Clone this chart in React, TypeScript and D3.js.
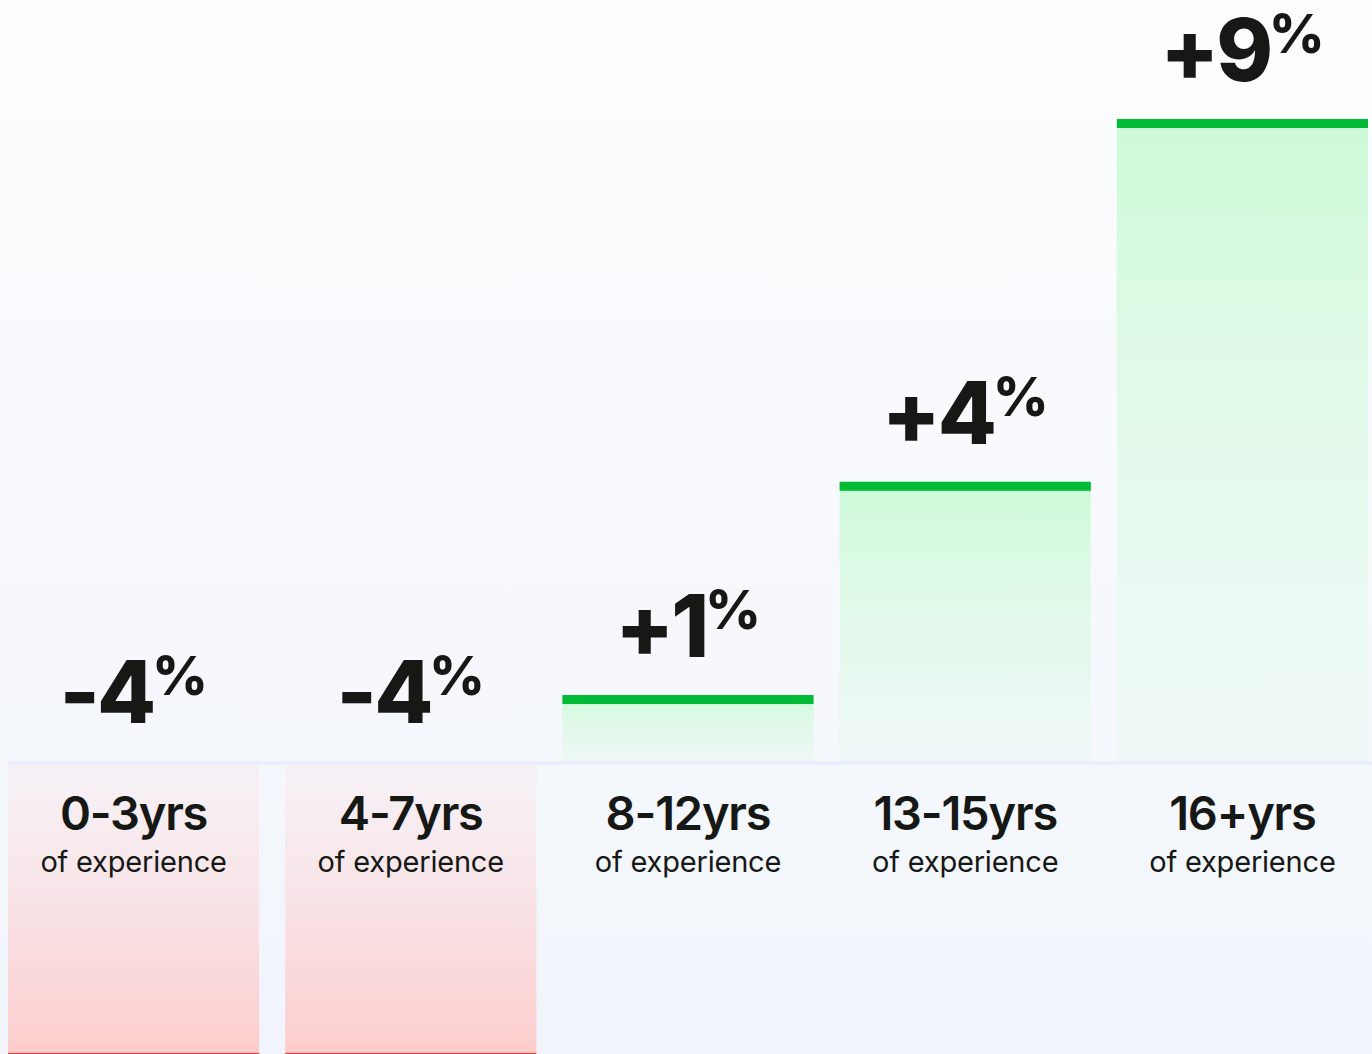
import * as d3 from 'd3';
import { useEffect, useRef } from 'react';

const categories = ['0-3yrs', '4-7yrs', '8-12yrs', '13-15yrs', '16+yrs'];
const values = [-4.05, -4.05, 0.95, 3.93, 9.0];
const valueLabels = ['-4', '-4', '+1', '+4', '+9'];
const subLabel = 'of experience';

const W = 1372;
const H = 1054;
const FONT = 'Inter, "Noto Sans", sans-serif';

function App() {
  const svgRef = useRef<SVGSVGElement>(null);

  useEffect(() => {
    const svg = d3.select(svgRef.current);
    svg.selectAll('*').remove();

    const defs = svg.append('defs');

    const bg = defs.append('linearGradient').attr('id', 'bg')
      .attr('x1', 0).attr('y1', 0).attr('x2', 0).attr('y2', 1);
    bg.append('stop').attr('offset', '0%').attr('stop-color', '#fdfdfe');
    bg.append('stop').attr('offset', '100%').attr('stop-color', '#f1f5fb');

    const green = defs.append('linearGradient').attr('id', 'greenFill')
      .attr('x1', 0).attr('y1', 0).attr('x2', 0).attr('y2', 1);
    green.append('stop').attr('offset', '0%').attr('stop-color', '#cdfad8').attr('stop-opacity', 1);
    green.append('stop').attr('offset', '100%').attr('stop-color', '#e6f8ee').attr('stop-opacity', 0.4);

    const pink = defs.append('linearGradient').attr('id', 'pinkFill')
      .attr('x1', 0).attr('y1', 0).attr('x2', 0).attr('y2', 1);
    pink.append('stop').attr('offset', '0%').attr('stop-color', '#f7eef3').attr('stop-opacity', 0.6);
    pink.append('stop').attr('offset', '100%').attr('stop-color', '#fdcccc').attr('stop-opacity', 1);

    svg.append('rect').attr('width', W).attr('height', H).attr('fill', 'url(#bg)');

    const x = d3.scaleBand<string>()
      .domain(categories)
      .range([8, 1368])
      .paddingInner(0.094)
      .paddingOuter(0);

    const y = d3.scaleLinear().domain([0, 9]).range([763, 119]);

    const data = categories.map((c, i) => ({ c, v: values[i], label: valueLabels[i] }));

    // bar fills
    svg.selectAll('rect.bar')
      .data(data)
      .join('rect')
      .attr('class', 'bar')
      .attr('x', d => x(d.c)!)
      .attr('width', x.bandwidth())
      .attr('y', d => (d.v >= 0 ? y(d.v) : y(0)))
      .attr('height', d => Math.abs(y(d.v) - y(0)))
      .attr('fill', d => (d.v >= 0 ? 'url(#greenFill)' : 'url(#pinkFill)'));

    // edge lines at the bar ends
    svg.selectAll('rect.edge')
      .data(data)
      .join('rect')
      .attr('class', 'edge')
      .attr('x', d => x(d.c)!)
      .attr('width', x.bandwidth())
      .attr('y', d => y(d.v))
      .attr('height', 9)
      .attr('fill', d => (d.v >= 0 ? '#00bb36' : '#e0453f'));

    // zero line
    svg.append('rect')
      .attr('x', 8)
      .attr('width', W - 8)
      .attr('y', y(0) - 1.5)
      .attr('height', 3)
      .attr('fill', '#e8ecfc');

    // value labels
    const vl = svg.selectAll('text.val')
      .data(data)
      .join('text')
      .attr('class', 'val')
      .attr('x', d => x(d.c)! + x.bandwidth() / 2)
      .attr('y', d => (d.v >= 0 ? y(d.v) - 38 : y(0) - 40))
      .attr('text-anchor', 'middle')
      .attr('font-family', FONT)
      .attr('font-weight', 800)
      .attr('fill', '#161816');
    vl.append('tspan').attr('font-size', 86).attr('letter-spacing', -3).text(d => d.label);
    vl.append('tspan').attr('font-size', 54).attr('dy', -28).attr('dx', -1).text('%');

    // category labels
    svg.selectAll('text.cat')
      .data(data)
      .join('text')
      .attr('class', 'cat')
      .attr('x', d => x(d.c)! + x.bandwidth() / 2)
      .attr('y', 830)
      .attr('text-anchor', 'middle')
      .attr('font-family', FONT)
      .attr('font-weight', 600)
      .attr('font-size', 47)
      .attr('letter-spacing', -1.2)
      .attr('fill', '#161816')
      .text(d => d.c);

    svg.selectAll('text.sub')
      .data(data)
      .join('text')
      .attr('class', 'sub')
      .attr('x', d => x(d.c)! + x.bandwidth() / 2)
      .attr('y', 872)
      .attr('text-anchor', 'middle')
      .attr('font-family', FONT)
      .attr('font-weight', 400)
      .attr('font-size', 29)
      .attr('letter-spacing', -0.2)
      .attr('fill', '#161816')
      .text(subLabel);
  }, []);

  return (
    <svg
      ref={svgRef}
      width={W}
      height={H}
      style={{ position: 'absolute', left: 0, top: 0, display: 'block' }}
    />
  );
}

export default App;
